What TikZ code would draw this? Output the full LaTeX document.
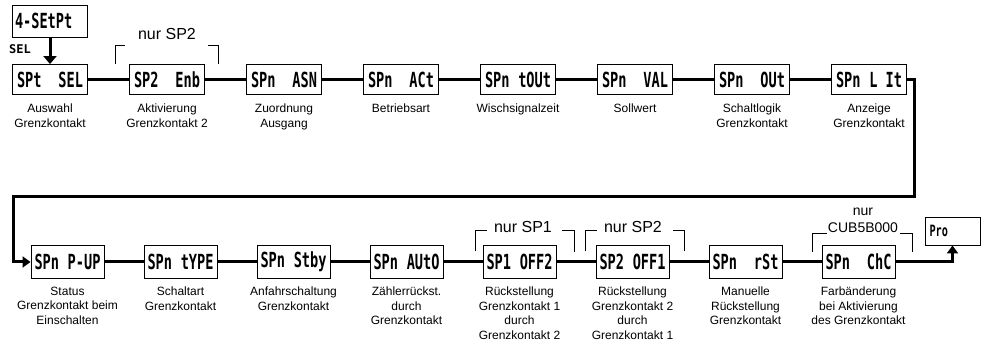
\documentclass[tikz,border=0pt]{standalone}
\usepackage{fontspec}
\setmainfont{Liberation Sans}
\newfontfamily\lcdfont{DejaVu Sans Mono Bold}
\usetikzlibrary{arrows.meta}

\newcommand{\seg}[1]{\scalebox{0.85}[1.3]{\lcdfont #1}}
\newcommand{\disp}[2]{\makebox[66pt]{\seg{#1}\hfill\seg{#2}}}

\begin{document}
\begin{tikzpicture}[x=1pt,y=-1pt,
        disp/.style={draw,line width=0.9pt,minimum width=75pt,minimum height=30pt,inner sep=0pt,
                     font=\fontsize{16}{16}\selectfont},
        dispb/.style={disp,minimum width=73pt,minimum height=33pt},
        lbl/.style={anchor=north,align=center,inner sep=0pt,font=\fontsize{12}{14.4}\selectfont},
        note/.style={anchor=base,inner sep=0pt,font=\fontsize{16}{16}\selectfont},
        link/.style={line width=3pt},
        brk/.style={line width=1pt}]
        \useasboundingbox (0,0) rectangle (982,344);

        % first row
        \node (setpt)  at (50,21)    [disp,minimum height=32pt] {\makebox[70pt][l]{\seg{4-SEtPt}}};
        \node (sel)    at (50,79.5)  [disp] {\disp{SPt}{SEL}};
        \node (enb)    at (167,79.5) [disp] {\disp{SP2}{Enb}};
        \node (asn)    at (284,79.5) [disp] {\disp{SPn}{ASN}};
        \node (act)    at (401,79.5) [disp] {\disp{SPn}{ACt}};
        \node (tout)   at (518,79.5) [disp] {\disp{SPn}{tOUt}};
        \node (val)    at (635,79.5) [disp] {\disp{SPn}{VAL}};
        \node (out)    at (752,79.5) [disp] {\disp{SPn}{OUt}};
        \node (lit)    at (869,79.5) [disp] {\disp{SPn}{L It}};

        \node (sellbl)  at (50,104)  [lbl] {Auswahl\\Grenzkontakt};
        \node (enblbl)  at (167,104) [lbl] {Aktivierung\\Grenzkontakt 2};
        \node (asnlbl)  at (284,104) [lbl] {Zuordnung\\Ausgang};
        \node (actlbl)  at (401,104) [lbl] {Betriebsart};
        \node (toutlbl) at (518,104) [lbl] {Wischsignalzeit};
        \node (vallbl)  at (635,104) [lbl] {Sollwert};
        \node (outlbl)  at (752,104) [lbl] {Schaltlogik\\Grenzkontakt};
        \node (litlbl)  at (869,104) [lbl] {Anzeige\\Grenzkontakt};

        % second row
        \node (pup)    at (67.5,262)  [dispb] {\disp{SPn}{P-UP}};
        \node (type)   at (180.5,262) [dispb] {\disp{SPn}{tYPE}};
        \node (stby)   at (293.5,262) [dispb] {\disp{SPn}{Stby}};
        \node (auto)   at (406.5,262) [dispb] {\disp{SPn}{AUtO}};
        \node (off2)   at (519.5,262) [dispb] {\disp{SP1}{OFF2}};
        \node (off1)   at (632.5,262) [dispb] {\disp{SP2}{OFF1}};
        \node (rst)    at (745.5,262) [dispb] {\disp{SPn}{rSt}};
        \node (chc)    at (858.5,262) [dispb] {\disp{SPn}{ChC}};
        \node (pro)    at (952.5,231) [disp,minimum width=55pt,minimum height=28pt,
                                       font=\fontsize{12}{12}\selectfont] {\makebox[46pt][l]{\seg{Pro}}};

        \node (puplbl)  at (67.5,287)  [lbl] {Status\\Grenzkontakt beim\\Einschalten};
        \node (typelbl) at (180.5,287) [lbl] {Schaltart\\Grenzkontakt};
        \node (stbylbl) at (293.5,287) [lbl] {Anfahrschaltung\\Grenzkontakt};
        \node (autolbl) at (406.5,287) [lbl] {Zählerrückst.\\durch\\Grenzkontakt};
        \node (off2lbl) at (519.5,287) [lbl] {Rückstellung\\Grenzkontakt 1\\durch\\Grenzkontakt 2};
        \node (off1lbl) at (632.5,287) [lbl] {Rückstellung\\Grenzkontakt 2\\durch\\Grenzkontakt 1};
        \node (rstlbl)  at (745.5,287) [lbl] {Manuelle\\Rückstellung\\Grenzkontakt};
        \node (chclbl)  at (858.5,287) [lbl] {Farbänderung\\bei Aktivierung\\des Grenzkontakt};

        % entry
        \node (key) at (20,49) [inner sep=0pt,font=\lcdfont\fontsize{12}{12}\selectfont] {SEL};
        \draw[link,-{Triangle[length=8pt,width=13pt]}] (setpt) -- (sel);

        % connectors
        \draw[link] (sel) -- (enb);
        \draw[link] (enb) -- (asn);
        \draw[link] (asn) -- (act);
        \draw[link] (act) -- (tout);
        \draw[link] (tout) -- (val);
        \draw[link] (val) -- (out);
        \draw[link] (out) -- (lit);
        \draw[link,-{Triangle[length=8pt,width=11pt]}] (lit.east) -- ++(8,0) |- (13,197) |- (pup.west);
        \draw[link] (pup) -- (type);
        \draw[link] (type) -- (stby);
        \draw[link] (stby) -- (auto);
        \draw[link] (auto) -- (off2);
        \draw[link] (off2) -- (off1);
        \draw[link] (off1) -- (rst);
        \draw[link] (rst) -- (chc);
        \draw[link,-{Triangle[length=8pt,width=11pt]}] (chc.east) -| (pro.south);

        % only-if brackets
        \draw[brk] (enb.north west) ++(-14,0) -- ++(0,-19) -- ++(10,0);
        \draw[brk] (enb.north east) ++(14,0) -- ++(0,-19) -- ++(-11,0);
        \node (enbnote) at (167,40) [note] {nur SP2};

        \draw[brk] (off2.north west) ++(-7,6) -- ++(0,-21) -- ++(11,0);
        \draw[brk] (off2.north east) ++(18,7) -- ++(0,-22) -- ++(-12,0);
        \node (off2note) at (523,233) [note] {nur SP1};

        \draw[brk] (off1.north west) ++(-10,6) -- ++(0,-21) -- ++(11,0);
        \draw[brk] (off1.north east) ++(15,6) -- ++(0,-21) -- ++(-11,0);
        \node (off1note) at (633,233) [note] {nur SP2};

        \draw[brk] (chc.north west) ++(-9,7) -- ++(0,-19) -- ++(14,0);
        \draw[brk] (chc.north east) ++(17,7) -- ++(0,-19) -- ++(-12,0);
        \node (chcnote) at (863,233) [anchor=south,align=center,inner sep=0pt,
                                     font=\fontsize{14}{17}\selectfont] {nur\\CUB5B000};
\end{tikzpicture}
\end{document}
